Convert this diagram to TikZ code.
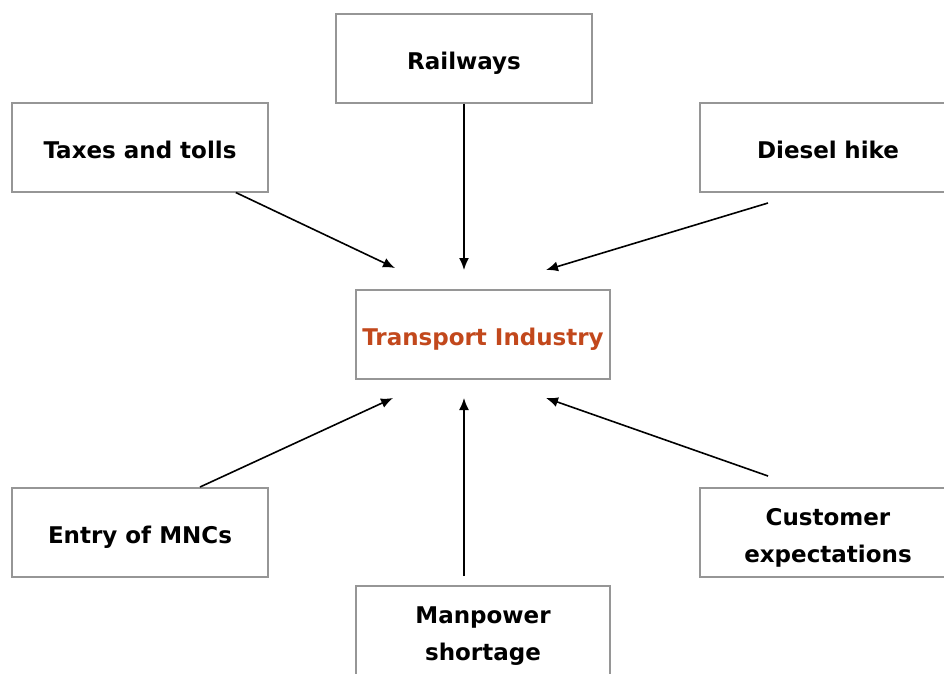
\documentclass[tikz,border=0pt]{standalone}
\usepackage{fontspec}
\setmainfont{DejaVu Sans}
\usetikzlibrary{arrows.meta}

\definecolor{boxgray}{RGB}{150,150,150}
\definecolor{hubred}{RGB}{194,72,28}

\tikzset{
	factor/.style={draw=boxgray, line width=2pt, fill=white,
		minimum width=256pt, minimum height=89pt, inner sep=0pt,
		align=center, font=\bfseries\fontsize{23}{37}\selectfont,
		text height=23pt, text depth=0pt},
	twoline/.style={text width=244pt, text height=17pt, text depth=31pt},
	push/.style={-{Latex[length=12pt,width=10pt]}, line width=1.6pt}
}

\begin{document}
\begin{tikzpicture}[x=1pt,y=-1pt]
		\useasboundingbox (0,0) rectangle (944,673);
		\clip (0,0) rectangle (944,673);
		%
		\node[factor] (rail) at (464,58) {Railways};
		\node[factor] (tax) at (140,147) {Taxes and tolls};
		\node[factor, text width=244pt] (diesel) at (828,147) {Diesel hike};
		\node[factor, minimum width=254pt, text=hubred] (hub) at (483,334) {Transport Industry};
		\node[factor] (mnc) at (140,532) {Entry of MNCs};
		\node[factor, twoline] (cust) at (828,532) {Customer\\expectations};
		\node[factor, twoline, minimum width=254pt] (man) at (483,630) {Manpower\\shortage};
		%
		\coordinate (dieselTail) at (768,203);
		\coordinate (custTail) at (768,476);
		\coordinate (manTail) at (464,576);
		\coordinate (mncTail) at (200,487);
		\coordinate (taxHead) at (395,268);
		\coordinate (railHead) at (464,270);
		\coordinate (dieselHead) at (546,270);
		\coordinate (mncHead) at (393,398);
		\coordinate (manHead) at (464,398);
		\coordinate (custHead) at (546,398);
		%
		\draw[push] (tax) -- (taxHead);
		\draw[push] (rail.south -| railHead) -- (railHead);
		\draw[push] (dieselTail) -- (dieselHead);
		\draw[push] (mncTail) -- (mncHead);
		\draw[push] (manTail) -- (manHead);
		\draw[push] (custTail) -- (custHead);
\end{tikzpicture}
\end{document}
